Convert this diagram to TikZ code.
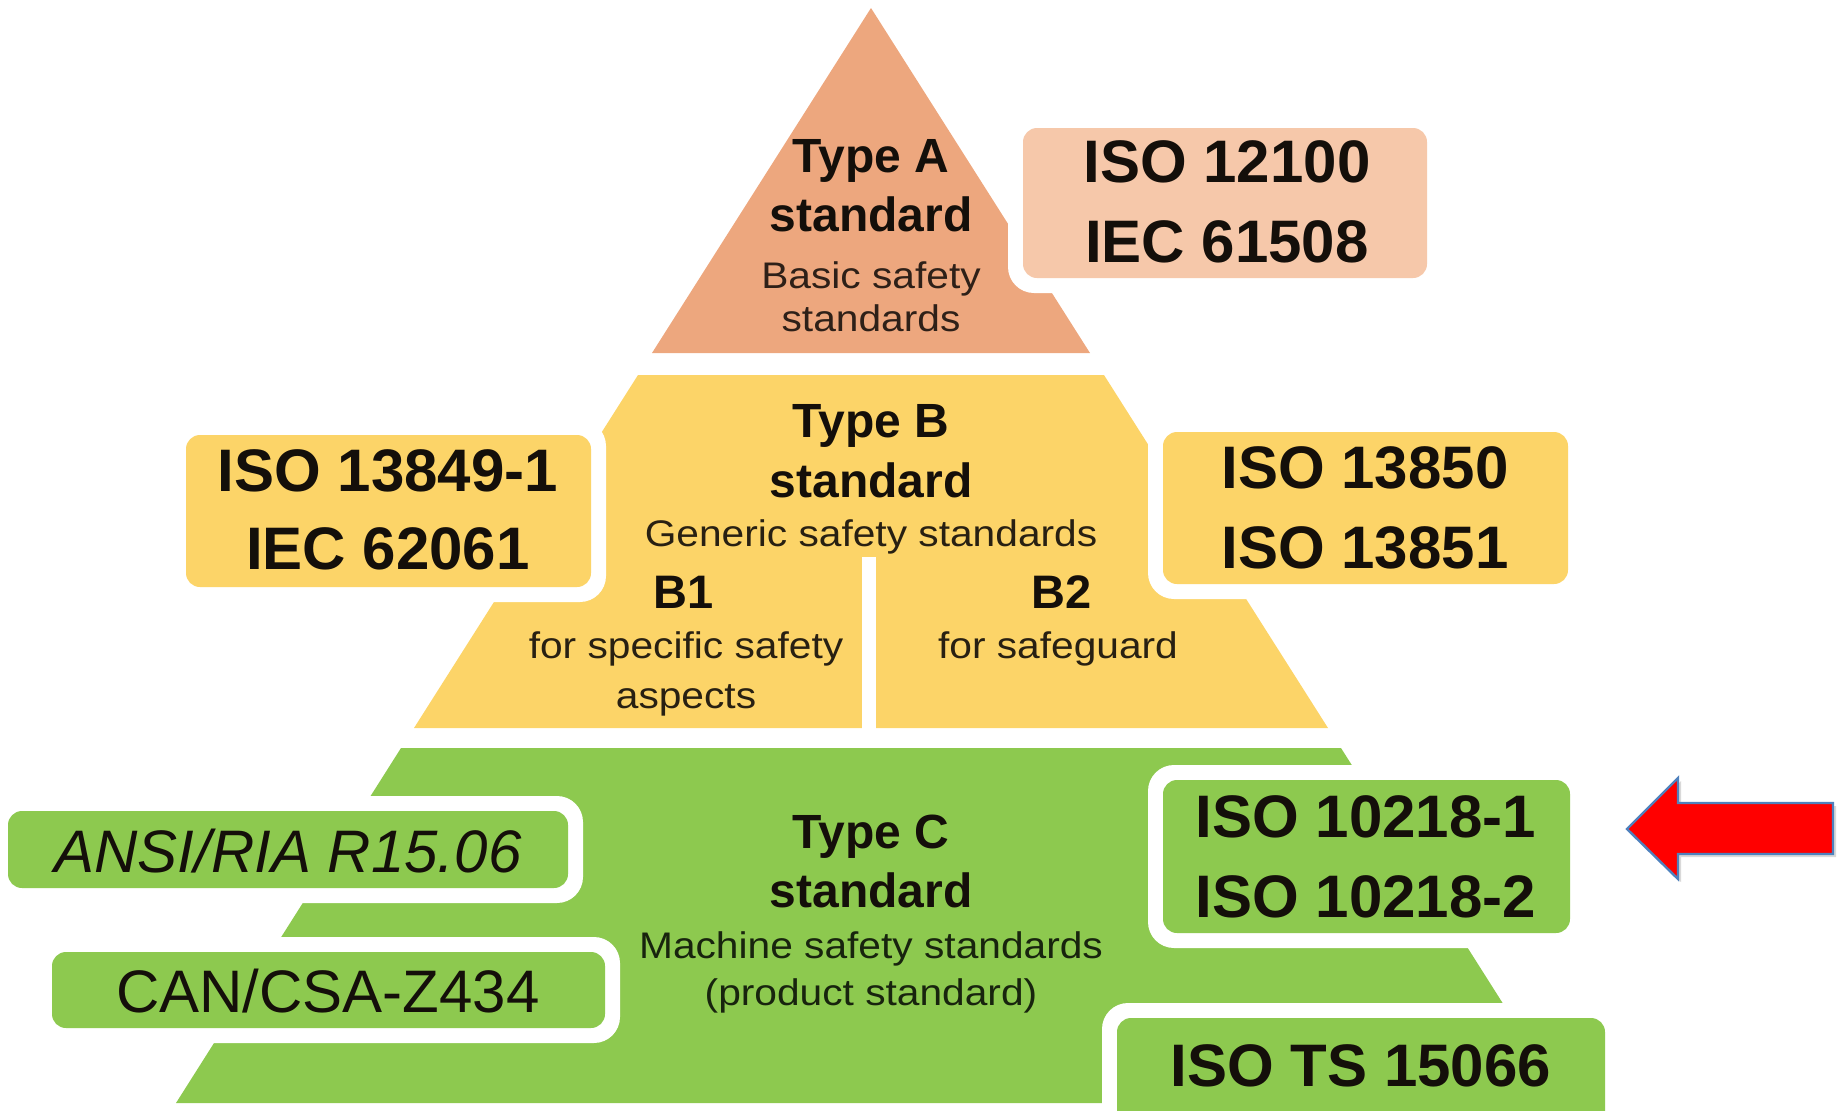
\documentclass[tikz,border=0pt]{standalone}
\usepackage{fontspec}
\setmainfont{Liberation Sans}
\newfontfamily\widesans[FakeStretch=1.1]{Liberation Sans}
\usetikzlibrary{shadows}
\definecolor{layA}{HTML}{EDA77E}
\definecolor{boxA}{HTML}{F6C8AA}
\definecolor{layB}{HTML}{FCD468}
\definecolor{layC}{HTML}{8DC94F}
\definecolor{ink}{HTML}{140F0A}
\definecolor{inkA}{HTML}{2E2018}
\definecolor{inkB}{HTML}{282012}
\definecolor{inkC}{HTML}{18240E}
\definecolor{arrowedge}{HTML}{4F81BD}
\begin{document}
\begin{tikzpicture}[x=0.5pt,y=-0.5pt,
  margin/.style={fill=white, rounded corners=13pt},
  stdbox/.style={rounded corners=7pt},
  bigbold/.style={font=\fontsize{30}{36}\selectfont\bfseries, text=ink, anchor=base, inner sep=0pt},
  bigital/.style={font=\fontsize{30}{36}\selectfont\itshape, text=ink, anchor=base, inner sep=0pt},
  bigreg/.style={font=\fontsize{30}{36}\selectfont, text=ink, anchor=base, inner sep=0pt},
  heading/.style={font=\fontsize{24}{28}\selectfont\bfseries, text=ink, anchor=base, inner sep=0pt},
  subhead/.style={font=\fontsize{23.5}{28}\selectfont\bfseries, text=ink, anchor=base, inner sep=0pt},
  subtext/.style={font=\widesans\fontsize{18.5}{22}\selectfont, anchor=base, inner sep=0pt},
]
\useasboundingbox (0,0) rectangle (1844,1110);
\clip (0,0) rectangle (1844,1110);

% pyramid layers
\fill[layA] (871,8) -- (652,353) -- (1090,353) -- cycle;
\fill[layB] (638,375) -- (1104,375) -- (1328,728) -- (414,728) -- cycle;
\fill[layC] (401,748) -- (1341,748) -- (1566,1103) -- (176,1103) -- cycle;

% B1 / B2 divider
\fill[white] (862,557) rectangle (876,729);

% white margins around the boxes
\fill[margin] (1008,113) rectangle (1442,293);
\fill[margin] (171,420) rectangle (606,602);
\fill[margin] (1148,417) rectangle (1583,599);
\fill[margin] (-7,796) rectangle (583,903);
\fill[margin] (37,937) rectangle (620,1043);
\fill[margin] (1148,765) rectangle (1585,948);
\fill[margin] (1102,1003) rectangle (1620,1140);

% boxes
\fill[boxA, stdbox] (1023,128) rectangle (1427,278);
\fill[layB, stdbox] (186,435) rectangle (591,587);
\fill[layB, stdbox] (1163,432) rectangle (1568,584);
\fill[layC, stdbox] (8,811) rectangle (568,888);
\fill[layC, stdbox] (52,952) rectangle (605,1028);
\fill[layC, stdbox] (1163,780) rectangle (1570,933);
\fill[layC, stdbox] (1117,1018) rectangle (1605,1140);

% Type A texts
\node[heading] (tA1) at (871,172) {Type A};
\node[heading] (tA2) at (871,231) {standard};
\node[subtext, text=inkA] (tA3) at (871,288) {Basic safety};
\node[subtext, text=inkA] (tA4) at (871,331) {standards};
\node[bigbold] (iso12100) at (1227,182) {ISO 12100};
\node[bigbold] (iec61508) at (1227,262) {IEC 61508};

% Type B texts
\node[heading] (tB1) at (871,437) {Type B};
\node[heading] (tB2) at (871,497) {standard};
\node[subtext, text=inkB] (tB3) at (871,546) {Generic safety standards};
\node[subhead] (b1) at (684,608) {B1};
\node[subtext, text=inkB] (b1a) at (686,658) {for specific safety};
\node[subtext, text=inkB] (b1b) at (686,708) {aspects};
\node[subhead] (b2) at (1062,608) {B2};
\node[subtext, text=inkB] (b2a) at (1058,658) {for safeguard};
\node[bigbold] (iso13849) at (388,491) {ISO 13849-1};
\node[bigbold] (iec62061) at (388,569) {IEC 62061};
\node[bigbold] (iso13850) at (1365,488) {ISO 13850};
\node[bigbold] (iso13851) at (1365,568) {ISO 13851};

% Type C texts
\node[heading] (tC1) at (871,848) {Type C};
\node[heading] (tC2) at (871,907) {standard};
\node[subtext, text=inkC] (tC3) at (871,958) {Machine safety standards};
\node[subtext, text=inkC] (tC4) at (871,1005) {(product standard)};
\node[bigital] (ansi) at (288,872) {ANSI/RIA R15.06};
\node[bigreg] (can) at (328,1012) {CAN/CSA-Z434};
\node[bigbold] (iso102181) at (1366,837) {ISO 10218-1};
\node[bigbold] (iso102182) at (1366,917) {ISO 10218-2};
\node[bigbold] (isots) at (1361,1086) {ISO TS 15066};

% red arrow
\fill[red, draw=arrowedge, line width=1.2pt,
      drop shadow={opacity=0.3, shadow xshift=1.5pt, shadow yshift=-1.5pt}]
  (1627,829) -- (1678,778) -- (1678,803) -- (1833,803) -- (1833,854)
  -- (1678,854) -- (1678,879) -- cycle;
\end{tikzpicture}
\end{document}
